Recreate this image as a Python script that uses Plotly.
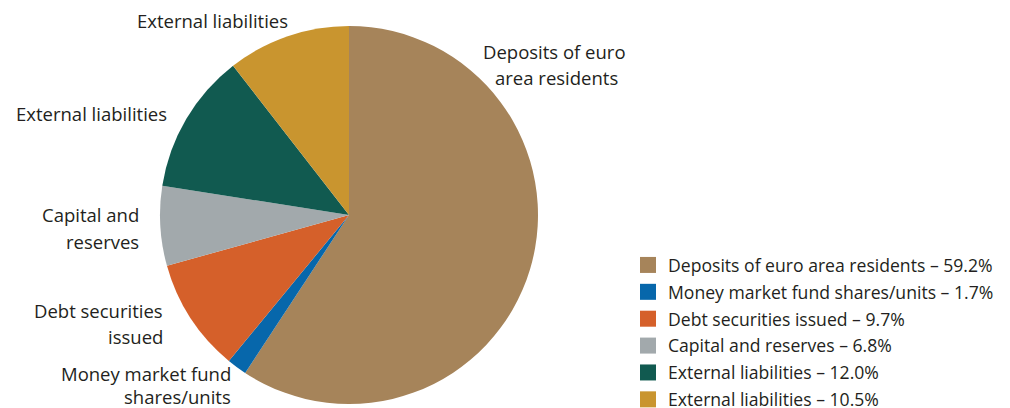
import plotly.graph_objects as go

# Liability breakdown (share of total, %)
categories = [
    "Deposits of euro area residents",
    "Money market fund shares/units",
    "Debt securities issued",
    "Capital and reserves",
    "External liabilities",
    "External liabilities",
]
shares = [59.2, 1.7, 9.7, 6.8, 12.0, 10.5]
colors = ["#A6845A", "#0767AB", "#D5602A", "#A2A9AC", "#115A50", "#C9952F"]

# Slice labels drawn beside the pie, one entry per line
slice_label_lines = [
    ["Deposits of euro", "area residents"],
    ["Money market fund", "shares/units"],
    ["Debt securities", "issued"],
    ["Capital and", "reserves"],
    ["External liabilities"],
    ["External liabilities"],
]

W, H = 1010, 408
FONT = "Open Sans"
TEXT = "#231F20"

# pixel anchors for each label line: (x, y, xanchor)
label_anchor = [
    [(554, 51, "center"), (556, 77, "center")],
    [(233, 373, "right"), (233, 396, "right")],
    [(165, 310, "right"), (165, 336, "right")],
    [(141, 214, "right"), (141, 241, "right")],
    [(14, 113, "left")],
    [(135, 20, "left")],
]

fig = go.Figure()

cx, cy, r = 349, 215, 189
fig.add_trace(go.Pie(
    labels=[f"{c} {i}" for i, c in enumerate(categories)],
    values=shares,
    sort=False,
    direction="clockwise",
    rotation=0,
    marker=dict(colors=colors, line=dict(width=0)),
    textinfo="none",
    hoverinfo="skip",
    showlegend=False,
    domain=dict(x=[(cx - r) / W, (cx + r) / W],
                y=[(H - cy - r) / H, (H - cy + r) / H]),
))

# legend entries: one square marker per category, each in its own group
for i, (name, val, col) in enumerate(zip(categories, shares, colors)):
    fig.add_trace(go.Scatter(
        x=[None], y=[None], mode="markers",
        marker=dict(symbol="square", size=16, color=col),
        name=f"{name} – {val:.1f}%",
        legendgroup=f"g{i}",
        showlegend=True,
        hoverinfo="skip",
    ))

annotations = []
for lines, anchors in zip(slice_label_lines, label_anchor):
    for text, (x, y, xa) in zip(lines, anchors):
        annotations.append(dict(
            x=x / W, y=(H - y) / H, xref="paper", yref="paper",
            text=text, showarrow=False, xanchor=xa, yanchor="middle",
            font=dict(family=FONT, size=18.5, color=TEXT),
        ))

fig.update_layout(
    width=W, height=H,
    margin=dict(l=0, r=0, t=0, b=0, autoexpand=False),
    paper_bgcolor="white", plot_bgcolor="white",
    xaxis=dict(visible=False), yaxis=dict(visible=False),
    annotations=annotations,
    legend=dict(
        x=628 / W, y=(H - 247) / H, xanchor="left", yanchor="top",
        font=dict(family=FONT, size=17.6, color=TEXT),
        tracegroupgap=1, bgcolor="rgba(0,0,0,0)",
        itemclick=False, itemdoubleclick=False,
    ),
    showlegend=True,
)

fig.write_html("out.html")
